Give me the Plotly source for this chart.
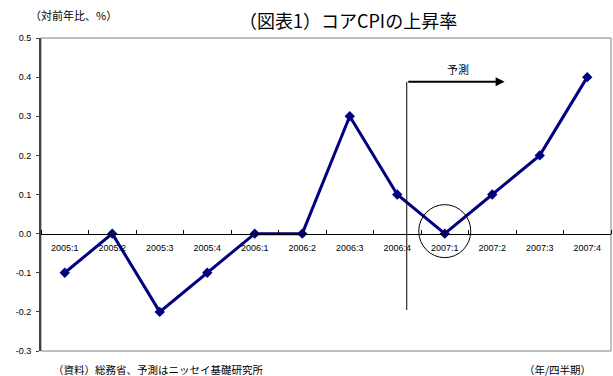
import plotly.graph_objects as go

quarters = ["2005:1", "2005:2", "2005:3", "2005:4", "2006:1", "2006:2",
            "2006:3", "2006:4", "2007:1", "2007:2", "2007:3", "2007:4"]
core_cpi = [-0.1, 0.0, -0.2, -0.1, 0.0, 0.0, 0.3, 0.1, 0.0, 0.1, 0.2, 0.4]
y_ticks = [-0.3, -0.2, -0.1, 0.0, 0.1, 0.2, 0.3, 0.4, 0.5]

title_text = "（図表1）コアCPIの上昇率"
unit_text = "（対前年比、%）"
source_text = "（資料）総務省、予測はニッセイ基礎研究所"
xunit_text = "（年/四半期）"
forecast_text = "予測"

JP = "Noto Sans CJK JP"
NUM = "Liberation Sans, Arial, Noto Sans CJK JP"

y_min, y_max = -0.3, 0.5
forecast_x = 7.2          # between 2006:4 and 2007:1
arrow_end_x = 9.26
arrow_y = 0.388
vline_bottom = -0.195
circle_idx = quarters.index("2007:1")
boundaries = [i - 0.5 for i in range(len(quarters) + 1)]

fig = go.Figure()
fig.add_trace(go.Scatter(
    x=list(range(len(quarters))), y=core_cpi, mode="lines+markers",
    line=dict(color="#000080", width=3),
    marker=dict(symbol="diamond", size=8, color="#000080"),
    hoverinfo="skip", showlegend=False, cliponaxis=False,
))

fig.update_layout(
    width=613, height=376,
    margin=dict(l=41, r=2, t=38, b=25),
    paper_bgcolor="white", plot_bgcolor="white",
    font=dict(family=NUM, size=9, color="black"),
    showlegend=False,
    xaxis=dict(
        type="linear", range=[-0.5, len(quarters) - 0.5],
        tickmode="array", tickvals=list(range(len(quarters))), ticktext=quarters,
        anchor="free", position=(0 - y_min) / (y_max - y_min),
        showline=True, linecolor="black", linewidth=1,
        ticks="", showgrid=False, zeroline=False,
        ticklabelstandoff=6,
        minor=dict(tickmode="array", tickvals=boundaries, ticks="inside",
                   ticklen=4, tickcolor="black", tickwidth=1, showgrid=False),
        tickfont=dict(family=NUM, size=9),
        fixedrange=True,
    ),
    yaxis=dict(
        range=[y_min, y_max], domain=[0, 1],
        tickmode="array", tickvals=y_ticks,
        ticktext=[f"{v:.1f}" for v in y_ticks],
        showline=True, linecolor="#404040", linewidth=2,
        ticks="outside", ticklen=3, tickcolor="#404040",
        showgrid=False, zeroline=False,
        ticklabelstandoff=3,
        tickfont=dict(family=NUM, size=9),
        fixedrange=True,
    ),
)

shapes = []
# frame
shapes.append(dict(type="rect", xref="paper", yref="paper", x0=0, x1=1, y0=0, y1=1,
                   line=dict(color="#808080", width=1), layer="below"))
# forecast vertical line
shapes.append(dict(type="line", xref="x", yref="y", x0=forecast_x, x1=forecast_x,
                   y0=vline_bottom, y1=arrow_y, line=dict(color="black", width=1)))
# circle around 2007:1
shapes.append(dict(type="circle", xref="x", yref="y",
                   xsizemode="pixel", ysizemode="pixel",
                   xanchor=circle_idx, yanchor=core_cpi[circle_idx],
                   x0=-26, x1=26, y0=-24, y1=29,
                   line=dict(color="black", width=1)))
fig.update_layout(shapes=shapes)

fig.add_annotation(x=arrow_end_x, y=arrow_y, ax=forecast_x, ay=arrow_y,
                   xref="x", yref="y", axref="x", ayref="y",
                   text="", showarrow=True, arrowhead=2, arrowsize=0.9,
                   arrowwidth=2, arrowcolor="black")
fig.add_annotation(x=(forecast_x + arrow_end_x) / 2 + 0.05, y=arrow_y, xref="x", yref="y",
                   text=forecast_text, showarrow=False, yshift=13,
                   font=dict(family=JP, size=11))
fig.add_annotation(x=330 / 613, y=1, xref="paper", yref="paper", text=title_text,
                   showarrow=False, yshift=18, yanchor="middle",
                   font=dict(family=JP, size=18))
fig.add_annotation(x=0, y=1, xref="paper", yref="paper", text=unit_text,
                   showarrow=False, xanchor="left", yanchor="middle",
                   xshift=-13, yshift=23, font=dict(family=JP, size=11))
fig.add_annotation(x=0, y=0, xref="paper", yref="paper", text=source_text,
                   showarrow=False, xanchor="left", yanchor="middle",
                   xshift=10, yshift=-18, font=dict(family=JP, size=10.5))
fig.add_annotation(x=1, y=0, xref="paper", yref="paper", text=xunit_text,
                   showarrow=False, xanchor="right", yanchor="middle",
                   xshift=-18, yshift=-18, font=dict(family=JP, size=10.5))

fig.write_html("out.html")
